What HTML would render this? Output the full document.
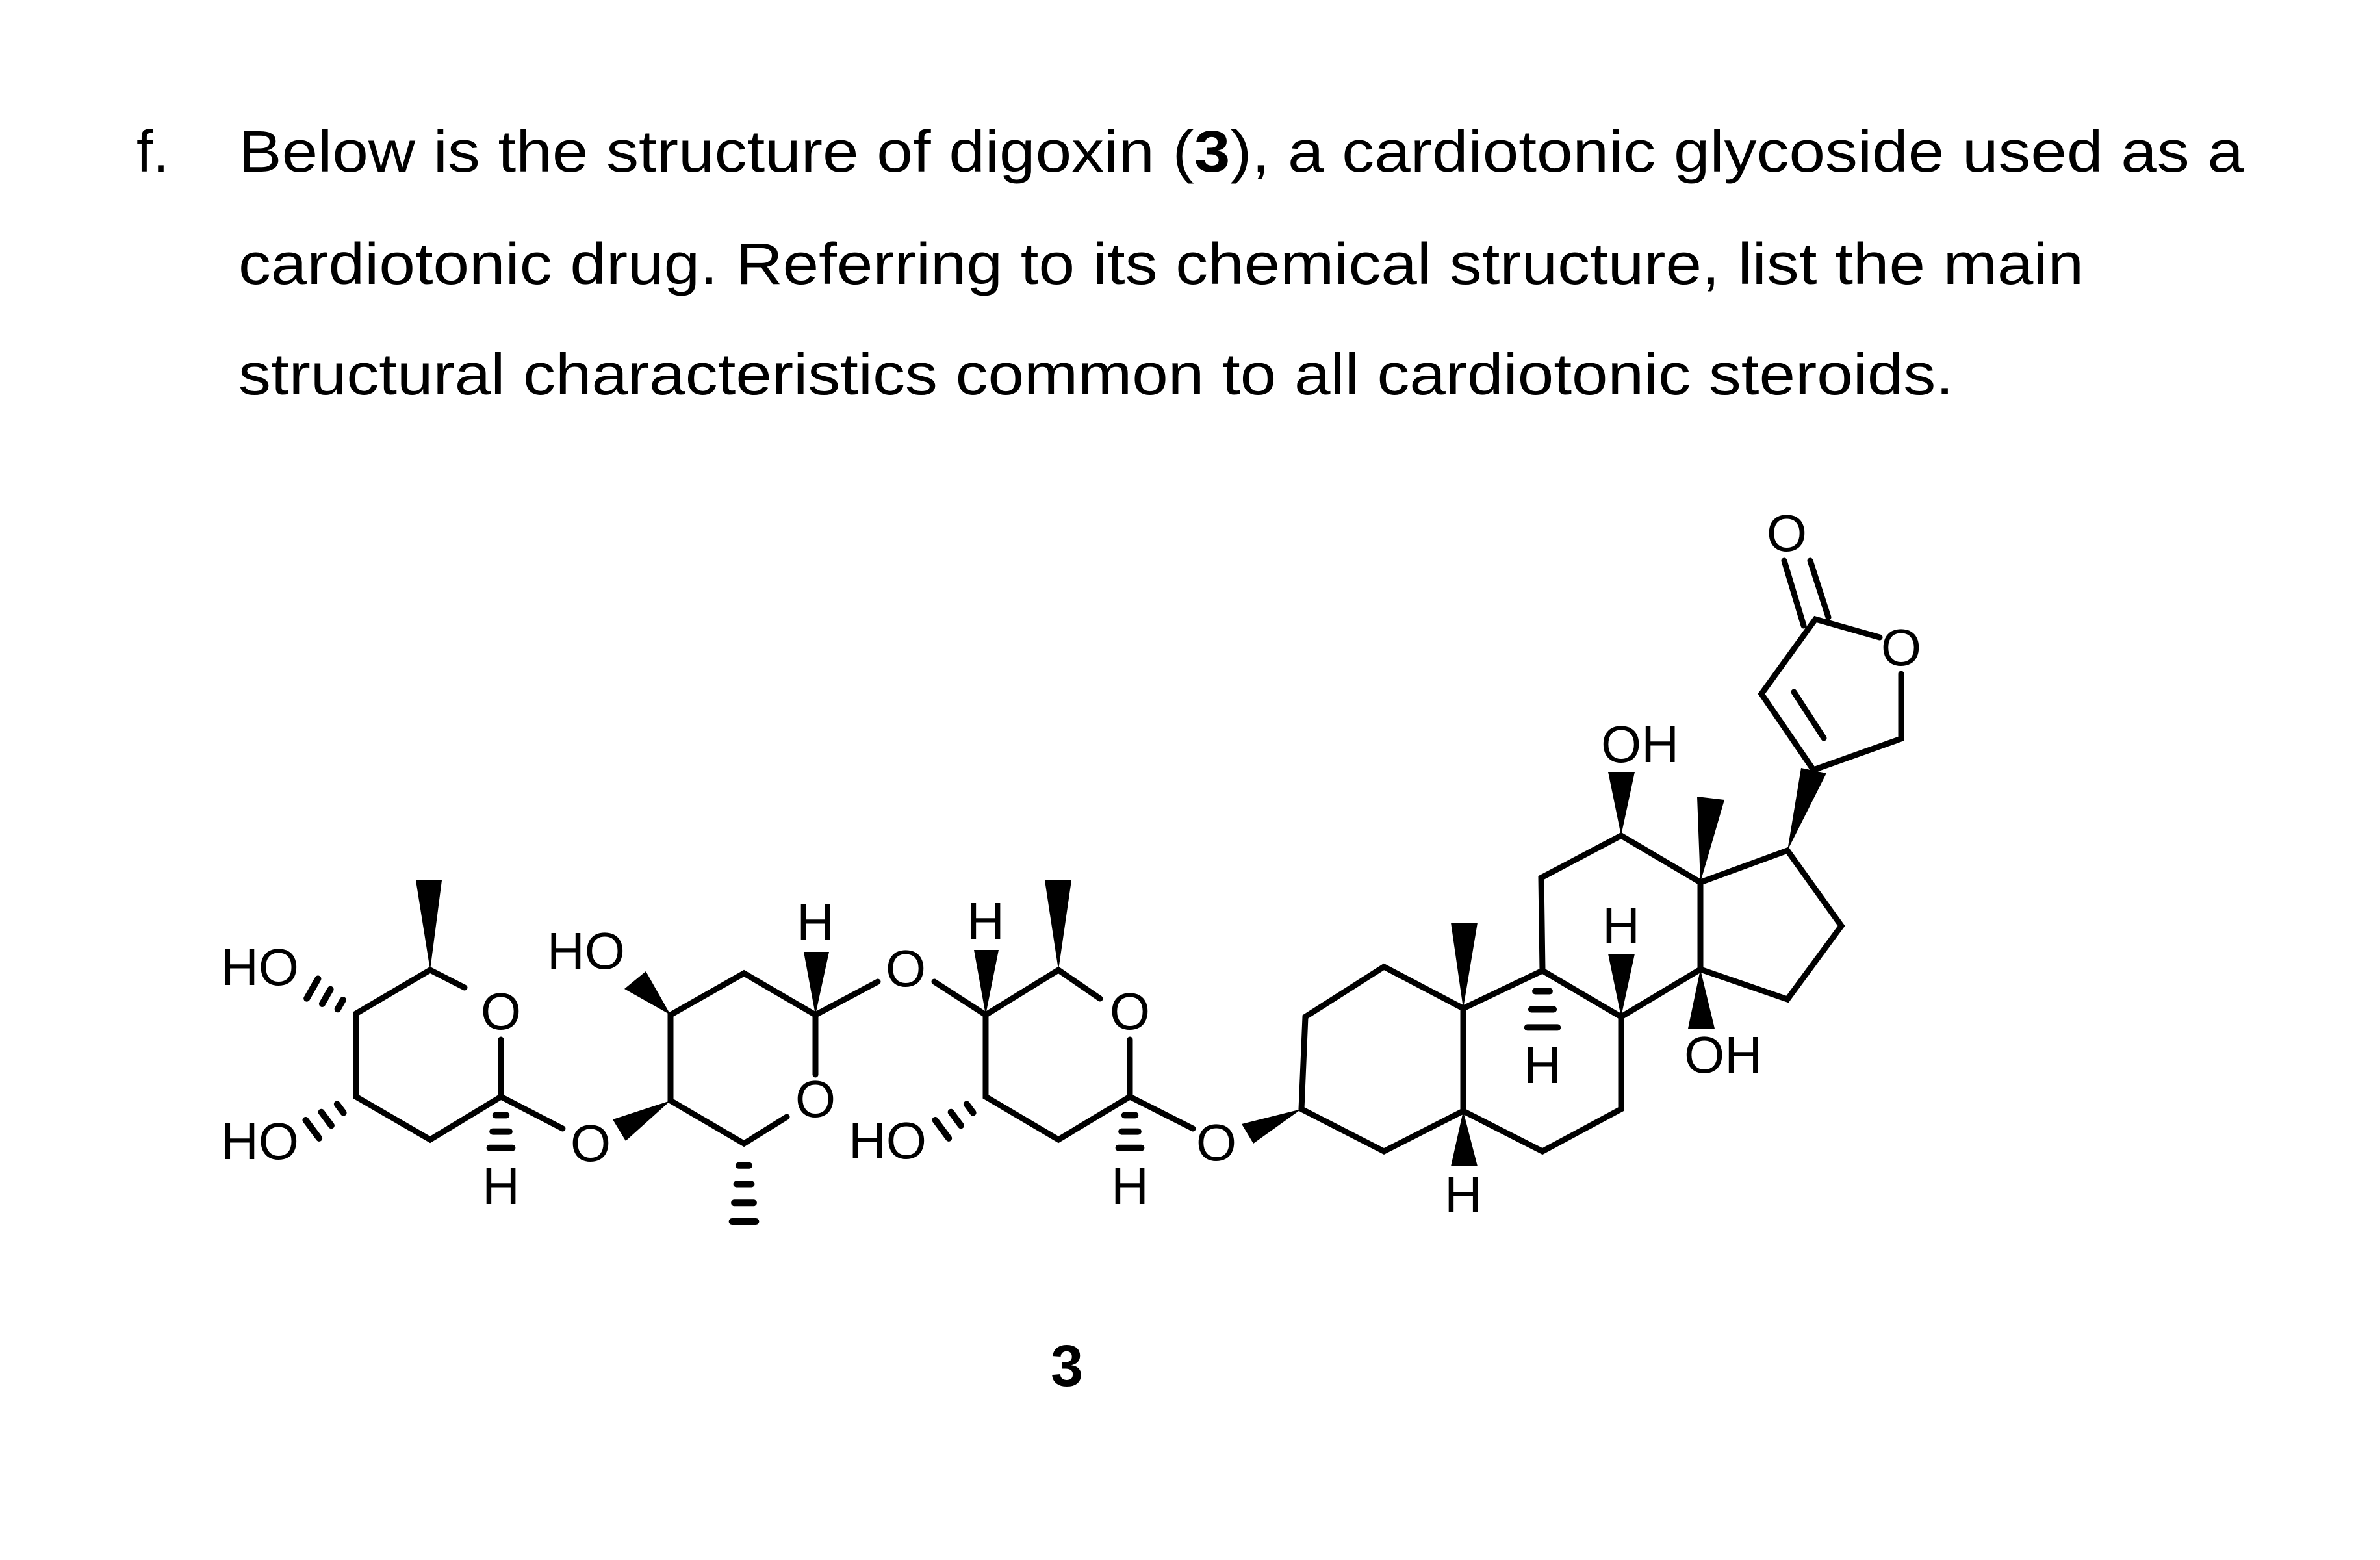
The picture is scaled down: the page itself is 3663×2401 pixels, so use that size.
<!DOCTYPE html>
<html><head><meta charset="utf-8"><style>
html,body{margin:0;padding:0;background:#fff;}
svg{display:block;}
text{font-family:"Liberation Sans",sans-serif;fill:#000;}
</style></head><body>
<svg id="s" width="3663" height="2401" viewBox="0 0 3663 2401" xmlns="http://www.w3.org/2000/svg">
<rect width="3663" height="2401" fill="#fff"/>
<g font-size="90">
<text x="210" y="264">f.</text>
<text x="367" y="264" textLength="3086" lengthAdjust="spacingAndGlyphs">Below is the structure of digoxin (<tspan font-weight="bold">3</tspan>), a cardiotonic glycoside used as a</text>
<text x="367" y="437" textLength="2840" lengthAdjust="spacingAndGlyphs">cardiotonic drug. Referring to its chemical structure, list the main</text>
<text x="367" y="607" textLength="2640" lengthAdjust="spacingAndGlyphs">structural characteristics common to all cardiotonic steroids.</text>
<text x="1642" y="2133" font-weight="bold" text-anchor="middle">3</text>
</g>
<g stroke="#000" stroke-width="9" fill="none" stroke-linejoin="miter" stroke-linecap="round">
<!-- steroid -->
<polyline points="2003,1707 2009,1565 2130,1488 2252,1552 2252,1710 2130,1772 2003,1707"/>
<polyline points="2252,1552 2374,1494 2495,1565 2495,1707 2374,1772 2252,1710"/>
<polyline points="2374,1494 2372,1351 2495,1286 2617,1358 2617,1492 2495,1565"/>
<polyline points="2617,1358 2751,1309 2834,1425 2751,1538 2617,1492"/>
<polyline points="2791,1185 2711,1068 2794,953 2893,981"/>
<polyline points="2926,1037 2926,1137 2791,1185"/>
<line x1="2761" y1="1065" x2="2807" y2="1136"/>
<line x1="2746" y1="863" x2="2776" y2="963"/>
<line x1="2786" y1="863" x2="2814" y2="950"/>
<!-- sugars ring1 -->
<polyline points="715,1520 662,1493 548,1560 548,1688 662,1754 771,1688 771,1600"/>
<line x1="771" y1="1688" x2="866" y2="1737"/>
<!-- ring2 -->
<polyline points="1032,1694 1032,1562 1145,1498 1255,1562 1255,1654"/>
<polyline points="1032,1694 1145,1760 1211,1719"/>
<line x1="1255" y1="1562" x2="1351" y2="1511"/>
<!-- ring3 -->
<polyline points="1438,1511 1517,1562 1517,1688 1629,1754 1739,1688 1739,1600"/>
<polyline points="1517,1562 1629,1493 1693,1537"/>
<line x1="1739" y1="1688" x2="1836" y2="1737"/>
</g>
<g fill="#000" stroke="none">
<!-- wedges -->
<polygon points="2751,1309 2772,1182 2811,1190"/>
<polygon points="2495,1286 2475,1188 2516,1188"/>
<polygon points="2617,1358 2612,1226 2654,1231"/>
<polygon points="2495,1565 2475,1468 2516,1468"/>
<polygon points="2617,1492 2598,1583 2639,1583"/>
<polygon points="2252,1552 2233,1420 2274,1420"/>
<polygon points="2252,1710 2233,1795 2274,1795"/>
<polygon points="2003,1707 1911,1730 1929,1760"/>
<polygon points="662,1493 640,1355 680,1355"/>
<polygon points="1032,1694 943,1723 963,1756"/>
<polygon points="1032,1562 961,1522 994,1495"/>
<polygon points="1255,1562 1237,1465 1276,1465"/>
<polygon points="1629,1493 1608,1355 1649,1355"/>
<polygon points="1517,1562 1499,1462 1537,1462"/>
</g>
<g id="h" stroke="#000" stroke-width="10" stroke-linecap="round"></g>
<g font-size="80" text-anchor="middle">
<text x="2750" y="848">O</text>
<text x="2926" y="1024">O</text>
<text x="2524" y="1173">OH</text>
<text x="2495" y="1452">H</text>
<text x="2374" y="1667">H</text>
<text x="2652" y="1651">OH</text>
<text x="2252" y="1866">H</text>
<text x="1872" y="1786">O</text>
<text x="400" y="1516">HO</text>
<text x="400" y="1784">HO</text>
<text x="771" y="1584">O</text>
<text x="771" y="1853">H</text>
<text x="909" y="1787">O</text>
<text x="902" y="1491">HO</text>
<text x="1255" y="1447">H</text>
<text x="1255" y="1719">O</text>
<text x="1394" y="1518">O</text>
<text x="1366" y="1783">HO</text>
<text x="1517" y="1445">H</text>
<text x="1739" y="1584">O</text>
<text x="1739" y="1853">H</text>
</g>
</svg>
<script>
(function(){
var g=document.getElementById('h'),ns='http://www.w3.org/2000/svg';
function hash(x1,y1,x2,y2,n,w0,w1){
 var dx=x2-x1,dy=y2-y1,L=Math.hypot(dx,dy),px=-dy/L,py=dx/L;
 for(var i=1;i<=n;i++){var t=i/n*0.92+0.04;var w=(w0+(w1-w0)*t)/2;var cx=x1+dx*t,cy=y1+dy*t;
  var l=document.createElementNS(ns,'line');
  l.setAttribute('x1',cx+px*w);l.setAttribute('y1',cy+py*w);l.setAttribute('x2',cx-px*w);l.setAttribute('y2',cy-py*w);g.appendChild(l);}
}
hash(548,1560,478,1520,3,6,36);
hash(548,1688,478,1740,3,6,36);
hash(1517,1688,1447,1740,3,6,36);
hash(771,1688,771,1770,3,6,36);
hash(1739,1688,1739,1770,3,6,36);
hash(2374,1494,2374,1585,3,8,48);
hash(1145,1760,1145,1885,4,8,38);
})();
</script>
</body></html>
